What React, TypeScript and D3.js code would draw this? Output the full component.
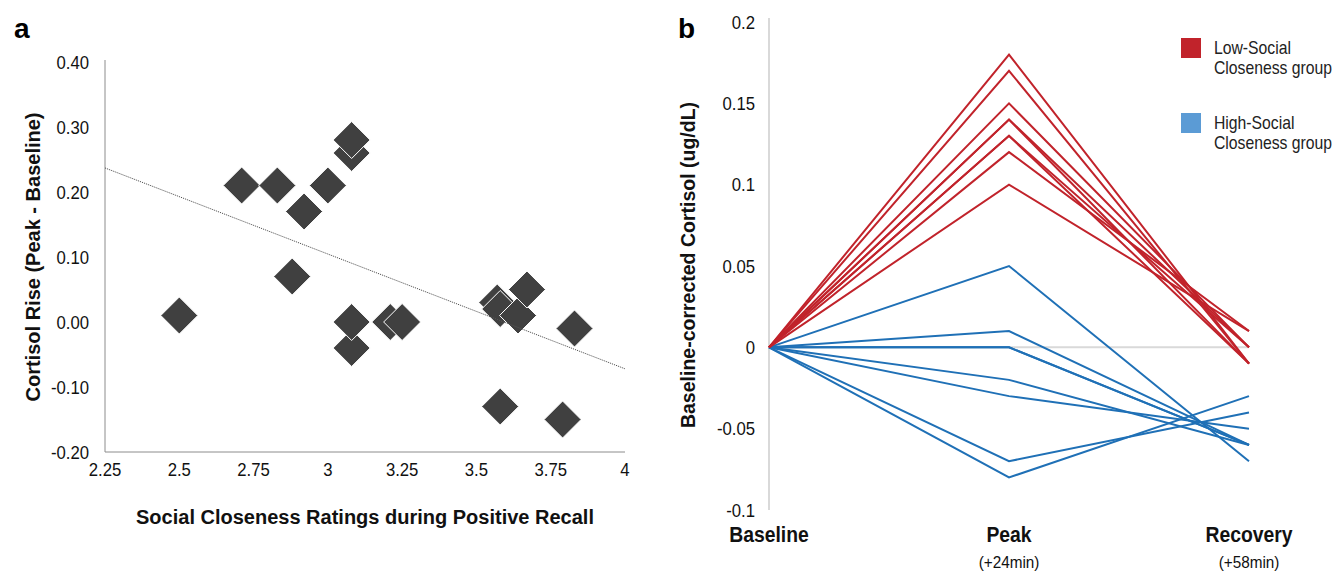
import React, { useEffect, useRef } from "react";
import * as d3 from "d3";

// panel a: social closeness vs cortisol rise
const closeness = [2.5, 2.71, 2.83, 2.88, 2.92, 3.0, 3.08, 3.08, 3.08, 3.08, 3.21, 3.25, 3.57, 3.58, 3.64, 3.67, 3.83, 3.58, 3.79];
const cortisolRise = [0.01, 0.21, 0.21, 0.07, 0.17, 0.21, 0.26, 0.28, -0.04, 0.0, 0.0, 0.0, 0.03, 0.02, 0.01, 0.05, -0.01, -0.13, -0.15];
const trendX = [2.25, 4];
const trendY = [0.237, -0.072];
const xTicksA = [2.25, 2.5, 2.75, 3, 3.25, 3.5, 3.75, 4];
const yTicksA = [-0.2, -0.1, 0, 0.1, 0.2, 0.3, 0.4];

// panel b: baseline-corrected cortisol per participant
const timepoints = ["Baseline", "Peak", "Recovery"];
const timeNotes = ["", "(+24min)", "(+58min)"];
const lowPeak = [0.18, 0.17, 0.15, 0.14, 0.14, 0.13, 0.13, 0.12, 0.1];
const lowRecovery = [-0.01, -0.01, 0.0, 0.0, -0.01, 0.0, -0.01, 0.01, 0.01];
const highPeak = [0.05, 0.01, 0.0, 0.0, -0.02, -0.03, -0.07, -0.08];
const highRecovery = [-0.07, -0.06, -0.06, -0.06, -0.06, -0.05, -0.04, -0.03];
const yTicksB = [-0.1, -0.05, 0, 0.05, 0.1, 0.15, 0.2];
const legendLabels = [["Low-Social", "Closeness group"], ["High-Social", "Closeness group"]];

const RED = "#c1232b";
const BLUE = "#1f70b6";
const FONT = "'Liberation Sans', Arial, sans-serif";

type G = d3.Selection<SVGGElement, unknown, null, undefined>;

// condensed text, stands in for Arial Narrow
const narrowText = (g: G, x: number, y: number, txt: string, size: number, anchor = "start", sx = 0.88, weight = "normal") =>
  g.append("text")
    .attr("transform", `translate(${x},${y}) scale(${sx},1)`)
    .attr("text-anchor", anchor).attr("font-family", FONT).attr("font-weight", weight)
    .attr("font-size", size).attr("fill", "#111").text(txt);

const App = () => {
  const svgRef = useRef<SVGSVGElement | null>(null);

  useEffect(() => {
    if (!svgRef.current) return;
    const svg = d3.select(svgRef.current);
    svg.selectAll("*").remove();

    // ---------- panel a ----------
    const xA = d3.scaleLinear().domain([2.25, 4]).range([105, 625]);
    const yA = d3.scaleLinear().domain([-0.2, 0.4]).range([452, 62]);
    const a = svg.append("g") as G;

    a.append("text").attr("x", 14).attr("y", 38)
      .attr("font-family", FONT).attr("font-weight", "bold").attr("font-size", 28).text("a");

    a.append("line").attr("x1", xA(2.25)).attr("x2", xA(2.25)).attr("y1", yA(0.4) - 2).attr("y2", yA(-0.2))
      .attr("stroke", "#8c8c8c").attr("stroke-width", 1);
    a.append("line").attr("x1", xA(2.25)).attr("x2", xA(4)).attr("y1", yA(-0.2)).attr("y2", yA(-0.2))
      .attr("stroke", "#8c8c8c").attr("stroke-width", 1);

    yTicksA.forEach((t) => narrowText(a, 89, yA(t) + 6.5, t.toFixed(2), 19, "end"));
    xTicksA.forEach((t) => narrowText(a, xA(t), 476, String(t), 19, "middle"));

    a.append("text").attr("transform", `translate(40, ${yA(0.1)}) rotate(-90)`)
      .attr("text-anchor", "middle").attr("font-family", FONT).attr("font-weight", "bold")
      .attr("font-size", 20).attr("fill", "#111").text("Cortisol Rise (Peak - Baseline)");
    a.append("text").attr("x", 365).attr("y", 524)
      .attr("text-anchor", "middle").attr("font-family", FONT).attr("font-weight", "bold")
      .attr("font-size", 20).attr("fill", "#111").text("Social Closeness Ratings during Positive Recall");

    const s = 18.5;
    closeness.forEach((c, i) => {
      const cx = xA(c);
      const cy = yA(cortisolRise[i]);
      a.append("path")
        .attr("d", `M${cx},${cy - s}L${cx + s},${cy}L${cx},${cy + s}L${cx - s},${cy}Z`)
        .attr("fill", "#404040").attr("stroke", "#ffffff").attr("stroke-width", 1);
    });

    a.append("line")
      .attr("x1", xA(trendX[0])).attr("y1", yA(trendY[0]))
      .attr("x2", xA(trendX[1])).attr("y2", yA(trendY[1]))
      .attr("stroke", "#555").attr("stroke-width", 1).attr("stroke-dasharray", "1.2,1");

    // ---------- panel b ----------
    const xB = d3.scalePoint().domain(timepoints).range([769, 1249]);
    const yB = d3.scaleLinear().domain([-0.1, 0.2]).range([510, 22]);
    const b = svg.append("g") as G;

    b.append("text").attr("x", 678).attr("y", 38)
      .attr("font-family", FONT).attr("font-weight", "bold").attr("font-size", 28).text("b");

    b.append("line").attr("x1", 769).attr("x2", 769).attr("y1", yB(0.2) - 4).attr("y2", yB(-0.1))
      .attr("stroke", "#d9d9d9").attr("stroke-width", 2);
    b.append("line").attr("x1", xB("Baseline")!).attr("x2", xB("Recovery")!).attr("y1", yB(0)).attr("y2", yB(0))
      .attr("stroke", "#d9d9d9").attr("stroke-width", 2);

    yTicksB.forEach((t) => narrowText(b, 755, yB(t) + 6.5, String(t), 19, "end"));

    timepoints.forEach((tp, i) => {
      narrowText(b, xB(tp)!, 542, tp, 22, "middle", 0.88, "bold");
      if (timeNotes[i]) narrowText(b, xB(tp)!, 568, timeNotes[i], 17, "middle", 0.9);
    });

    b.append("text").attr("transform", `translate(695, 265) rotate(-90)`)
      .attr("text-anchor", "middle").attr("font-family", FONT).attr("font-weight", "bold")
      .attr("font-size", 19.5).attr("fill", "#111").text("Baseline-corrected Cortisol (ug/dL)");

    const line = d3.line<[string, number]>().x((d) => xB(d[0])!).y((d) => yB(d[1]));
    const drawGroup = (peaks: number[], recs: number[], color: string) => {
      peaks.forEach((p, i) => {
        b.append("path")
          .attr("d", line([[timepoints[0], 0], [timepoints[1], p], [timepoints[2], recs[i]]]))
          .attr("fill", "none").attr("stroke", color).attr("stroke-width", 2)
          .attr("stroke-linejoin", "miter");
      });
    };
    drawGroup(highPeak, highRecovery, BLUE);
    drawGroup(lowPeak, lowRecovery, RED);

    // legend
    const legendColors = [RED, "#5b9bd5"];
    legendLabels.forEach((lbl, i) => {
      const ly = 38 + i * 75;
      b.append("rect").attr("x", 1181).attr("y", ly).attr("width", 20).attr("height", 20)
        .attr("fill", legendColors[i]);
      lbl.forEach((t, j) => {
        narrowText(b, 1214, ly + 16 + j * 20, t, 17.5, "start", 0.9).attr("fill", "#222");
      });
    });
  }, []);

  return (
    <svg
      ref={svgRef}
      width={1337}
      height={571}
      style={{ position: "absolute", left: 0, top: 0, background: "#fff" }}
    />
  );
};

export default App;
